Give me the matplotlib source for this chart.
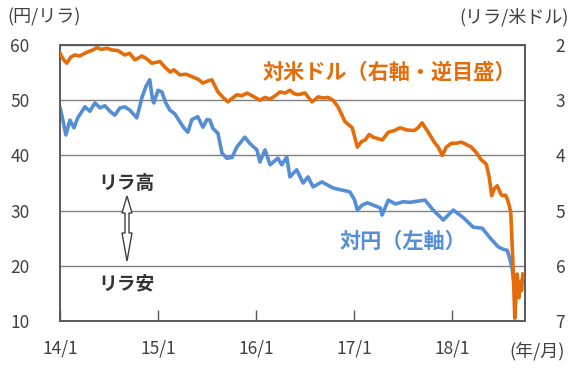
import matplotlib
matplotlib.use("Agg")
import matplotlib.pyplot as plt
import matplotlib.dates as mdates
from matplotlib.patches import Polygon
import pandas as pd

plt.rcParams['font.family'] = ['Noto Sans CJK JP', 'DejaVu Sans']

# 対円 (JPY per TRY), left axis
jpy_dates = [
    "2014-01-02", "2014-01-09", "2014-01-23", "2014-02-07", "2014-02-22", "2014-03-08",
    "2014-04-04", "2014-04-22", "2014-05-11", "2014-05-30", "2014-06-17", "2014-07-06",
    "2014-07-24", "2014-08-12", "2014-08-30", "2014-09-18", "2014-10-14", "2014-11-02",
    "2014-11-17", "2014-12-01", "2014-12-12", "2014-12-16", "2015-01-01", "2015-01-15",
    "2015-01-30", "2015-02-14", "2015-03-05", "2015-03-23", "2015-04-07", "2015-04-22",
    "2015-05-07", "2015-05-29", "2015-06-17", "2015-07-02", "2015-07-13", "2015-07-24",
    "2015-08-12", "2015-08-27", "2015-09-14", "2015-10-03", "2015-10-21", "2015-11-20",
    "2015-12-08", "2016-01-04", "2016-01-15", "2016-02-03", "2016-02-22", "2016-03-22",
    "2016-04-05", "2016-04-24", "2016-05-06", "2016-05-31", "2016-06-24", "2016-07-12",
    "2016-07-31", "2016-09-02", "2016-10-13", "2016-11-08", "2016-12-15", "2017-01-01",
    "2017-01-12", "2017-01-30", "2017-02-18", "2017-03-12", "2017-04-07", "2017-04-14",
    "2017-05-07", "2017-06-03", "2017-07-01", "2017-07-27", "2017-08-22", "2017-09-21",
    "2017-10-21", "2017-11-28", "2018-01-04", "2018-02-11", "2018-03-19", "2018-04-22",
    "2018-05-22", "2018-06-21", "2018-07-09", "2018-07-24", "2018-08-04", "2018-08-11",
    "2018-08-16", "2018-08-21", "2018-08-30", "2018-09-05", "2018-09-12", "2018-09-20",
]
jpy_values = [
    48.5, 47.0, 43.7, 46.4, 45.0, 46.8,
    48.8, 48.0, 49.5, 48.6, 49.0, 48.0,
    47.3, 48.6, 48.8, 48.2, 46.8, 50.5,
    52.5, 53.7, 50.0, 49.5, 51.8, 51.5,
    49.5, 48.2, 47.5, 46.1, 45.0, 44.2,
    46.5, 47.0, 45.1, 46.5, 46.4, 44.9,
    44.0, 40.4, 39.5, 39.6, 41.5, 43.3,
    42.2, 41.0, 38.8, 41.0, 38.3, 39.5,
    38.3, 39.7, 36.1, 37.4, 35.0, 36.1,
    34.3, 35.2, 34.1, 33.8, 33.4, 32.0,
    30.1, 31.0, 31.4, 31.0, 30.5, 29.2,
    31.9, 31.2, 31.6, 31.5, 31.7, 31.9,
    30.1, 28.3, 30.1, 28.7, 27.0, 26.8,
    25.0, 23.4, 23.0, 22.8, 21.0, 19.5,
    17.5, 15.8, 17.5, 16.5, 17.2, 17.5,
]

# 対米ドル (TRY per USD), right axis inverted
usd_dates = [
    "2014-01-01", "2014-01-12", "2014-01-26", "2014-02-10", "2014-02-25", "2014-03-15",
    "2014-04-11", "2014-04-29", "2014-05-18", "2014-06-05", "2014-06-24", "2014-07-13",
    "2014-08-04", "2014-08-30", "2014-09-17", "2014-10-07", "2014-11-02", "2014-11-20",
    "2014-12-09", "2015-01-08", "2015-01-26", "2015-02-15", "2015-03-01", "2015-03-23",
    "2015-04-15", "2015-05-11", "2015-05-30", "2015-06-17", "2015-07-06", "2015-07-20",
    "2015-08-12", "2015-08-31", "2015-09-18", "2015-10-03", "2015-10-22", "2015-11-09",
    "2015-11-28", "2015-12-21", "2016-01-15", "2016-02-03", "2016-02-22", "2016-03-12",
    "2016-03-30", "2016-04-18", "2016-05-06", "2016-05-21", "2016-06-05", "2016-07-01",
    "2016-07-27", "2016-08-19", "2016-09-07", "2016-09-25", "2016-10-13", "2016-11-01",
    "2016-11-27", "2016-12-24", "2017-01-12", "2017-01-27", "2017-02-10", "2017-02-25",
    "2017-03-12", "2017-03-31", "2017-04-15", "2017-05-07", "2017-05-29", "2017-06-20",
    "2017-07-16", "2017-08-11", "2017-08-26", "2017-09-10", "2017-10-03", "2017-10-25",
    "2017-11-09", "2017-11-24", "2017-12-09", "2017-12-28", "2018-01-16", "2018-02-03",
    "2018-02-21", "2018-03-12", "2018-03-31", "2018-04-18", "2018-05-07", "2018-05-18",
    "2018-05-27", "2018-06-06", "2018-06-17", "2018-06-28", "2018-07-05", "2018-07-17",
    "2018-07-24", "2018-07-31", "2018-08-06", "2018-08-11", "2018-08-16", "2018-08-21",
    "2018-08-30", "2018-09-05", "2018-09-10", "2018-09-15", "2018-09-20",
]
usd_values = [
    2.15, 2.25, 2.33, 2.22, 2.18, 2.20,
    2.13, 2.10, 2.05, 2.08, 2.06, 2.09,
    2.10, 2.18, 2.15, 2.27, 2.20, 2.25,
    2.33, 2.30, 2.40, 2.49, 2.45, 2.54,
    2.53, 2.58, 2.62, 2.69, 2.65, 2.63,
    2.85, 2.95, 3.03, 2.97, 2.90, 2.92,
    2.87, 2.93, 3.00, 2.95, 2.98, 2.92,
    2.85, 2.87, 2.82, 2.88, 2.90, 2.87,
    3.03, 2.94, 2.96, 2.95, 3.00, 3.12,
    3.39, 3.50, 3.85, 3.75, 3.72, 3.62,
    3.67, 3.70, 3.72, 3.58, 3.55, 3.50,
    3.54, 3.55, 3.50, 3.41, 3.58, 3.76,
    3.85, 4.00, 3.85, 3.78, 3.78, 3.76,
    3.80, 3.85, 3.95, 4.08, 4.16, 4.40,
    4.73, 4.60, 4.55, 4.68, 4.73, 4.72,
    4.79, 4.90, 5.04, 5.59, 6.20, 6.95,
    6.15, 6.58, 6.30, 6.45, 6.15,
]

x_ticks = ["2014-01-01", "2015-01-01", "2016-01-01", "2017-01-01", "2018-01-01"]
x_ticklabels = ["14/1", "15/1", "16/1", "17/1", "18/1"]
left_ticks = [10, 20, 30, 40, 50, 60]
right_ticks = [2, 3, 4, 5, 6, 7]

ORANGE = "#E46C0A"
BLUE = "#558ED5"
TXT = "#404040"
GRID = "#808080"

fig = plt.figure(figsize=(5.76, 3.69), dpi=100)
ax = fig.add_axes([60/576, 1-321/369, 465/576, 276/369])
ax2 = ax.twinx()

jd = pd.to_datetime(jpy_dates)
ud = pd.to_datetime(usd_dates)

ax.plot(jd, jpy_values, color=BLUE, lw=2.6, solid_joinstyle='round', zorder=3)
ax2.plot(ud, usd_values, color=ORANGE, lw=2.6, solid_joinstyle='round', zorder=3)

ax.set_ylim(10, 60)
ax2.set_ylim(7, 2)
ax.set_xlim(pd.Timestamp("2014-01-01"), pd.Timestamp("2018-09-28"))

ax.set_yticks(left_ticks)
ax2.set_yticks(right_ticks)
ax.set_yticklabels([str(v) for v in left_ticks], fontsize=12.5, color=TXT)
ax2.set_yticklabels([str(v) for v in right_ticks], fontsize=12.5, color=TXT)
ax.tick_params(axis='y', length=0, pad=22)
ax2.tick_params(axis='y', length=0, pad=22)

ax.set_xticks(pd.to_datetime(x_ticks))
ax.set_xticklabels(x_ticklabels, fontsize=12.5, color=TXT)
ax.tick_params(axis='x', direction='in', length=8, width=1, color="#595959", pad=13)

ax.grid(axis='y', color=GRID, lw=1)
ax.set_axisbelow(True)
for a in (ax, ax2):
    for s in a.spines.values():
        s.set_color("#595959")
        s.set_linewidth(1.2)

fig.text(7/576, 1-17/369, "(円/リラ)", fontsize=13, color=TXT, ha='left', va='center')
fig.text(569/576, 1-17/369, "(リラ/米ドル)", fontsize=13, color=TXT, ha='right', va='center')
fig.text(537/576, 1-351/369, "(年/月)", fontsize=13, color=TXT, ha='center', va='center')

fig.text(389/576, 1-72/369, "対米ドル（右軸・逆目盛）", fontsize=15.2, color=ORANGE,
         fontweight='bold', ha='center', va='center')
fig.text(403/576, 1-241/369, "対円（左軸）", fontsize=15.2, color=BLUE,
         fontweight='bold', ha='center', va='center')
fig.text(126/576, 1-183/369, "リラ高", fontsize=13.5, color="#333333",
         fontweight='bold', ha='center', va='center')
fig.text(126/576, 1-284/369, "リラ安", fontsize=13.5, color="#333333",
         fontweight='bold', ha='center', va='center')

# hollow double arrow between the two labels (figure pixels)
px = [(127, 196), (122, 213), (125, 213), (125, 233), (122, 233), (127, 261),
      (132, 233), (129, 233), (129, 213), (132, 213)]
poly = Polygon([(x/576, 1-y/369) for x, y in px], closed=True, transform=fig.transFigure,
               facecolor='white', edgecolor='#404040', lw=1)
fig.patches.append(poly)

fig.savefig("out.png", dpi=100)
